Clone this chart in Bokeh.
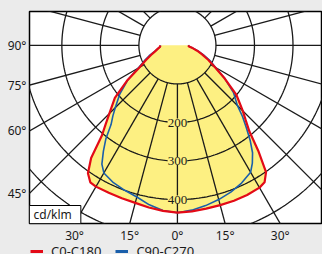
import numpy as np
from bokeh.plotting import figure
from bokeh.layouts import column
from bokeh.models import (ColumnDataSource, FixedTicker, LabelSet, Label, Legend,
                          LegendItem, Range1d, GlobalInlineStyleSheet)
from bokeh.embed import file_html
from bokeh.resources import INLINE

# ---- data (cd/klm) ----
gamma = [0, 5, 10, 15, 20, 25, 30, 32.5, 35, 37.5, 40, 42.5, 45, 50, 55, 60, 65, 70, 75, 80, 85, 90]
c0    = [434, 432, 430, 429, 429, 428, 426, 421, 401, 345, 290, 262, 240, 200, 150, 112, 88, 68, 53, 40, 30, 28]
c180  = [434, 431, 427, 423, 422, 422, 423, 421, 405, 368, 305, 275, 250, 212, 160, 114, 90, 73, 60, 52, 46, 44]
c90   = [434, 429, 422, 414, 405, 394, 380, 362, 340, 310, 278, 250, 220, 190, 150, 114, 94, 72, 55, 41, 31, 28]
c270  = [434, 430, 420, 407, 400, 393, 382, 365, 335, 305, 268, 248, 228, 195, 158, 118, 95, 78, 62, 52, 45, 44]

ring_values = [100, 200, 300, 400, 500, 600]
ring_labels = [200, 300, 400]
spoke_angles = list(range(0, 360, 15))
left_tick_angles = [45, 60, 75, 90]
bottom_tick_angles = [-30, -15, 0, 15, 30]
series_names = ["C0-C180", "C90-C270"]
unit_text = "cd/klm"

X0, X1, Y0, Y1 = -384, 374, -462, 88
RED = "#e30a17"
BLUE = "#1a5fab"
YELLOW = "#fdf082"
INK = "#1a1a1a"
GREY = "#ebebeb"
FONT = "Noto Sans"


def polar_curve(right_vals, left_vals):
    g = np.radians(gamma)
    r_r = np.array(right_vals, dtype=float)
    r_l = np.array(left_vals, dtype=float)
    xr, yr = r_r * np.sin(g), -r_r * np.cos(g)
    xl, yl = -r_l * np.sin(g), -r_l * np.cos(g)
    return np.concatenate([xl[::-1], xr[1:]]), np.concatenate([yl[::-1], yr[1:]])


fig = figure(width=322, height=246, x_range=Range1d(X0, X1), y_range=Range1d(Y0, Y1),
             output_backend="svg", toolbar_location=None,
             min_border_left=29, min_border_right=1, min_border_top=11, min_border_bottom=23,
             background_fill_color="white", border_fill_color=GREY,
             outline_line_color="black", outline_line_width=1.5)
fig.stylesheets = [GlobalInlineStyleSheet(css="body{background:#ebebeb;}")]
fig.grid.visible = False

# fills
rx, ry = polar_curve(c0, c180)
bx, by = polar_curve(c90, c270)
fig.patch(rx, ry, fill_color=YELLOW, line_color=None)
fig.patch(bx, by, fill_color=YELLOW, line_color=None)

# grid circles
t = np.linspace(0, 2 * np.pi, 361)
fig.multi_line(xs=[list(r * np.cos(t)) for r in ring_values],
               ys=[list(r * np.sin(t)) for r in ring_values],
               line_color=INK, line_width=1.3)
# spokes
th = np.radians(spoke_angles)
r_in, r_out = ring_values[0], 3 * ring_values[-1]
fig.segment(x0=r_in * np.sin(th), y0=-r_in * np.cos(th),
            x1=r_out * np.sin(th), y1=-r_out * np.cos(th),
            line_color=INK, line_width=1.3)

# curves
fig.line(bx, by, line_color=BLUE, line_width=1.6)
fig.line(rx, ry, line_color=RED, line_width=2.2)

# ring labels
src = ColumnDataSource(dict(x=[0] * len(ring_labels), y=[-v for v in ring_labels],
                            t=[str(v) for v in ring_labels]))
fig.add_layout(LabelSet(x="x", y="y", text="t", source=src, text_align="center",
                        text_baseline="middle", text_font=FONT, text_font_size="13px",
                        text_color=INK, background_fill_color=YELLOW))

# axes ticks where spokes meet the frame
lt = [round(X0 / np.tan(np.radians(a))) if a != 90 else 0 for a in left_tick_angles]
bt = [round(-Y0 * np.tan(np.radians(a))) for a in bottom_tick_angles]
fig.yaxis.ticker = FixedTicker(ticks=lt)
fig.yaxis.major_label_overrides = {v: f"{a}°" for v, a in zip(lt, left_tick_angles)}
fig.xaxis.ticker = FixedTicker(ticks=bt)
fig.xaxis.major_label_overrides = {v: f"{abs(a)}°" for v, a in zip(bt, bottom_tick_angles)}
for ax in (fig.xaxis, fig.yaxis):
    ax.axis_line_color = None
    ax.major_tick_line_color = None
    ax.minor_tick_line_color = None
    ax.major_tick_out = 0
    ax.major_tick_in = 0
    ax.major_label_standoff = 3
    ax.major_label_text_font = FONT
    ax.major_label_text_font_size = "12px"
    ax.major_label_text_color = INK

# unit box
fig.add_layout(Label(x=0, y=0, x_units="screen", y_units="screen", text=unit_text,
                     anchor="bottom_left", text_font=FONT, text_font_size="12px",
                     text_color=INK, background_fill_color="white",
                     border_line_color="black", border_line_width=1,
                     padding=dict(left=4, right=9, top=0, bottom=1)))

# legend strip below the chart (cut by the window edge, as in the original)
leg_fig = figure(width=322, height=8, output_backend="svg", toolbar_location=None,
                 x_range=Range1d(X0, X1), y_range=Range1d(1000, 1001),
                 min_border=0, background_fill_color=GREY, border_fill_color=GREY,
                 outline_line_color=None)
leg_fig.axis.visible = False
leg_fig.grid.visible = False
# same curves, outside this strip's view: only their legend swatches show
lr = leg_fig.line(rx, ry, line_color=RED, line_width=3)
lb = leg_fig.line(bx, by, line_color=BLUE, line_width=3)
legend = Legend(items=[LegendItem(label=series_names[0], renderers=[lr]),
                       LegendItem(label=series_names[1], renderers=[lb])],
                orientation="horizontal", location=(1, -7), padding=0, margin=0,
                spacing=14, glyph_width=13, glyph_height=20, label_standoff=8,
                label_height=20, border_line_color=None, background_fill_alpha=0,
                label_text_font=FONT, label_text_font_size="13px", label_text_color=INK)
leg_fig.add_layout(legend)

p = column(fig, leg_fig, spacing=0)
open("out.html", "w").write(file_html(p, INLINE))
